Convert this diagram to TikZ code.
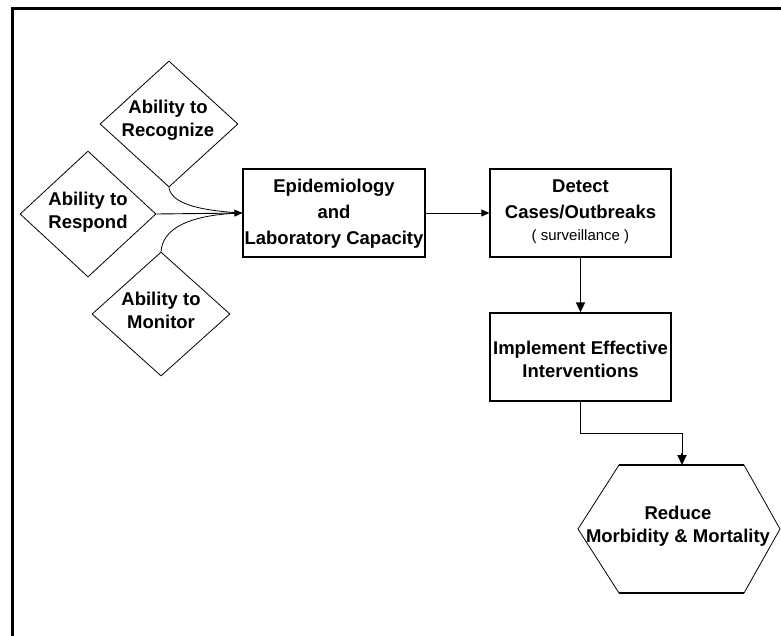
\documentclass[tikz,border=0pt]{standalone}
\usepackage{fontspec}
\setmainfont{Liberation Sans}
\usetikzlibrary{shapes.geometric,arrows.meta}
\begin{document}
\begin{tikzpicture}[x=1pt,y=-1pt,
  txt/.style={font=\bfseries\fontsize{18.5}{23}\selectfont, align=center, inner sep=0pt},
  btxt/.style={font=\bfseries\fontsize{18.5}{26}\selectfont, align=center, inner sep=0pt},
  dia/.style={diamond, draw, line width=0.8pt, inner sep=0pt},
  boxn/.style={rectangle, draw, line width=1.3pt, minimum width=181pt, minimum height=88pt, inner sep=0pt},
  arr/.style={line width=0.9pt, -{Triangle[length=8pt,width=7pt]}},
  arrb/.style={line width=1.8pt, -{Triangle[length=10pt,width=9pt]}}
]
\useasboundingbox (0,0) rectangle (781,635);
% frame
\draw[line width=3pt] (12.5,640) -- (12.5,8.5) -- (790,8.5);

% diamonds
\node[dia, minimum width=138pt, minimum height=126pt] (rec) at (169,124) {};
\node[txt] (rectxt) at (168,120) {Ability to\\Recognize};
\node[dia, minimum width=136pt, minimum height=126pt] (resp) at (88,214) {};
\node[txt] (resptxt) at (88,212) {Ability to\\Respond};
\node[dia, minimum width=138pt, minimum height=124pt] (mon) at (161,314) {};
\node[txt] (montxt) at (161,310) {Ability to\\Monitor};

% boxes
\node[boxn, minimum width=182pt] (epi) at (334,213) {};
\node[btxt] (epitxt) at (334,214) {Epidemiology\\and\\Laboratory Capacity};
\node[boxn] (det) at (580.5,213) {};
\node[btxt] (dettxt) at (580.5,212) {Detect\\Cases/Outbreaks\\[-4pt]{\mdseries\fontsize{15}{18}\selectfont ( surveillance )}};
\node[boxn] (impl) at (580.5,357) {};
\node[txt] (impltxt) at (580.5,359) {Implement Effective\\Interventions};

% hexagon
\draw[line width=0.8pt] (619,465) -- (744,465) -- (780,529) -- (744,593) -- (619,593) -- (578,529) -- cycle;
\draw[line width=1.6pt] (619,593) -- (744,593);
\draw[line width=1.2pt] (619,465) -- (744,465);
\node[txt] (hex) at (678,526) {Reduce\\Morbidity \& Mortality};
\coordinate (hextop) at (682,465);

% connectors
\draw[arr] (resp.east) -- (epi.west);
\draw[line width=0.8pt] (rec.south) .. controls (171,205) and (205,211) .. (epi.west);
\draw[line width=0.8pt] (mon.north) .. controls (163,222) and (205,214) .. (epi.west);
\draw[arr] (epi.east) -- (det.west);
\draw[arrb] (det.south) -- (impl.north);
\draw[line width=1pt] (impl.south) -- ++(0,32) -| ([yshift=12pt]hextop);
\draw[arrb] ([yshift=12.5pt]hextop) -- (hextop);
\end{tikzpicture}
\end{document}
